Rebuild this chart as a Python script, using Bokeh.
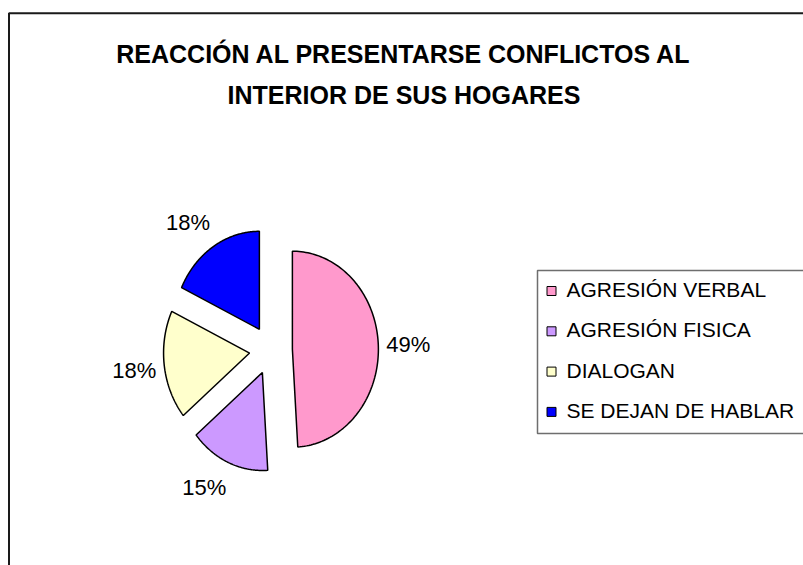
import numpy as np
from bokeh.plotting import figure
from bokeh.models import Range1d
from bokeh.core.properties import value
from bokeh.embed import file_html
from bokeh.resources import INLINE

# ---- data ----
TITLE_LINES = ["REACCIÓN AL PRESENTARSE CONFLICTOS AL", "INTERIOR DE SUS HOGARES"]
CATEGORIES = ["AGRESIÓN VERBAL", "AGRESIÓN FISICA", "DIALOGAN", "SE DEJAN DE HABLAR"]
PERCENTS = [49, 15, 18, 18]
COLORS = ["#FF99CC", "#CC99FF", "#FFFFCC", "#0000FF"]

# ---- layout (pixel-like data space) ----
W, H = 803, 565
FONT = value("Liberation Sans")


def py(y_page):
    """page y (from top of window) -> data y"""
    return H - y_page


def px(x_page):
    return x_page


p = figure(width=W, height=H, x_range=Range1d(0, W), y_range=Range1d(0, H),
           output_backend="svg", toolbar_location=None, min_border=0,
           x_axis_location=None, y_axis_location=None)
p.grid.visible = False
p.outline_line_color = None
p.background_fill_color = "white"
p.border_fill_color = "white"

# chart area frame (top and left edges visible)
p.line(x=[px(8.5), px(8.5), px(812)], y=[-5, py(12.7), py(12.7)],
       line_color="#1a1a1a", line_width=2)

# title
p.text(x=[px(403.5)] * len(TITLE_LINES),
       y=[py(53.5 + 40.5 * i) for i in range(len(TITLE_LINES))],
       text=TITLE_LINES, text_font=FONT, text_font_style="bold",
       text_font_size="25px", text_align="center", text_baseline="middle",
       text_color="black")

# exploded pie (elliptical, starts at 12 o'clock, clockwise)
CX, CY = px(270.4), py(349.5)
RX, RY = 86, 98
EXPLODE = 0.25
GAP, HW, HH = 10, 20, 16
total = float(sum(PERCENTS))
xs, ys, lx, ly, labels = [], [], [], [], []
start = 0.0
for v in PERCENTS:
    span = 2 * np.pi * v / total
    mid = start + span / 2
    s, c = np.sin(mid), np.cos(mid)
    ax = CX + EXPLODE * RX * s
    ay = CY + EXPLODE * RY * c
    t = np.linspace(start, start + span, 120)
    xs.append([ax] + list(ax + RX * np.sin(t)))
    ys.append([ay] + list(ay + RY * np.cos(t)))
    lx.append(ax + (RX + GAP) * s + HW * np.clip(2.5 * s, -1, 1))
    ly.append(ay + (RY + GAP) * c + HH * np.clip(2.0 * c, -1, 1))
    labels.append(f"{v}%")
    start += span

p.patches(xs, ys, fill_color=COLORS, line_color="black", line_width=1.5)
p.text(x=lx, y=ly, text=labels, text_font=FONT, text_font_size="22px",
       text_align="center", text_baseline="middle", text_color="black")

# legend (manual, box runs past the right edge)
n = len(CATEGORIES)
STEP = 40.3
p.quad(left=[px(537)], right=[px(840)], top=[py(270)], bottom=[py(433)],
       fill_color="white", line_color="#6e6e6e", line_width=1.5)
p.rect(x=[px(551)] * n, y=[py(290.5 + STEP * i) for i in range(n)],
       width=9, height=9, fill_color=COLORS, line_color="black", line_width=1)
p.text(x=[px(566)] * n, y=[py(289 + STEP * i) for i in range(n)],
       text=CATEGORIES, text_font=FONT, text_font_size="21px",
       text_align="left", text_baseline="middle", text_color="black")

open("out.html", "w").write(file_html(p, INLINE))
